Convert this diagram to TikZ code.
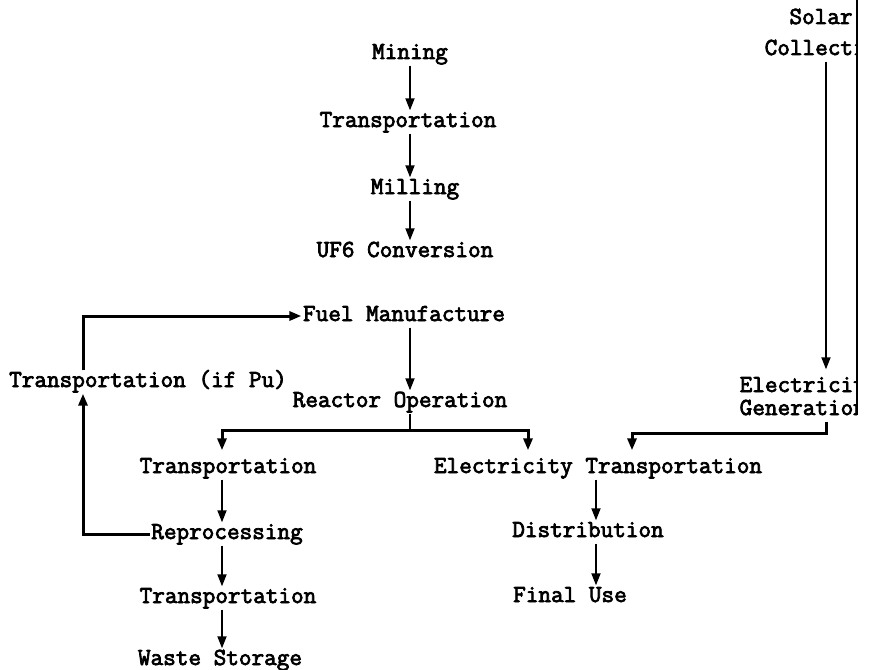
\documentclass[tikz,border=0pt]{standalone}
\usetikzlibrary{arrows.meta}

\tikzset{pointer/.tip={Triangle[length=12pt,width=9pt]}}

\begin{document}
\begin{tikzpicture}[x=1pt, y=-1pt,
	stage/.style={anchor=base, inner sep=1.5pt, text height=15pt, text depth=5pt,
		font=\ttfamily\fontsize{24.5}{24}\selectfont,
		execute at begin node={\special{pdf:literal q 2 Tr 0.75 w}},
		execute at end node={\special{pdf:literal 0 Tr Q}}},
	flow/.style={line width=1.8pt, -pointer},
	feed/.style={line width=3pt, -pointer}]
	\useasboundingbox (0,0) rectangle (872,669);
	%columns
	\coordinate (mainx) at (410,0);
	\coordinate (leftx) at (222,0);
	\coordinate (rightx) at (596,0);
	\coordinate (loopx) at (83,0);
	\coordinate (solarx) at (826,0);
	%fuel chain
	\node[stage] (mining) at (410,59) {Mining};
	\node[stage] (trans1) at (408,127) {Transportation};
	\node[stage] (milling) at (415,194) {Milling};
	\node[stage] (uf6) at (405,257) {UF6 Conversion};
	\node[stage] (fuel) at (404,321) {Fuel Manufacture};
	\node[stage] (transpu) at (148,387) {Transportation (if Pu)};
	\node[stage] (reactor) at (400,407) {Reactor Operation};
	%waste side
	\node[stage] (trans2) at (228,473) {Transportation};
	\node[stage] (repro) at (227,539) {Reprocessing};
	\node[stage] (trans3) at (228,603) {Transportation};
	\node[stage] (waste) at (220,665) {Waste Storage};
	%electricity side
	\node[stage] (elect) at (598,473) {Electricity Transportation};
	\node[stage] (dist) at (588,537) {Distribution};
	\node[stage] (final) at (570,602) {Final Use};
	%solar, cut at the edge
	\node[stage] (solar) at (821,24) {Solar};
	\begin{scope}
		\clip (0,0) rectangle (857,669);
		\node[stage, anchor=base west] (coll) at (763,55) {Collecti};
		\node[stage, anchor=base west] (elec) at (738,392) {Electricit};
		\node[stage, anchor=base west] (gen) at (738,415) {Generation};
	\end{scope}
	\draw[line width=1.4pt] (857,0) -- (857,415);
	%straight arrows
	\foreach \a/\b in {mining/trans1, trans1/milling, milling/uf6, fuel/reactor}
		\draw[flow] (\a.south -| mainx) -- (\b.north -| mainx);
	\foreach \a/\b in {trans2/repro, repro/trans3, trans3/waste}
		\draw[flow] (\a.south -| leftx) -- (\b.north -| leftx);
	\foreach \a/\b in {elect/dist, dist/final}
		\draw[flow] (\a.south -| rightx) -- (\b.north -| rightx);
	\draw[flow, shorten >=6pt] (coll.south -| solarx) -- (elec.north -| solarx);
	%branches
	\coordinate (split) at (410,430);
	\draw[line width=1.4pt] (reactor.south -| split) -- (split);
	\draw[feed, shorten >=6pt] (split) -| (leftx |- trans2.north);
	\draw[feed, shorten >=6pt] (split) -| ([xshift=-70pt]elect.north);
	\draw[feed, shorten >=6pt] (gen.south -| solarx) -- ++(0,12) -| ([xshift=34pt]elect.north);
	%plutonium loop
	\draw[feed] (repro.west) -| (loopx |- transpu.south);
	\draw[feed] (loopx |- transpu.north) |- (fuel.west);
\end{tikzpicture}
\end{document}
